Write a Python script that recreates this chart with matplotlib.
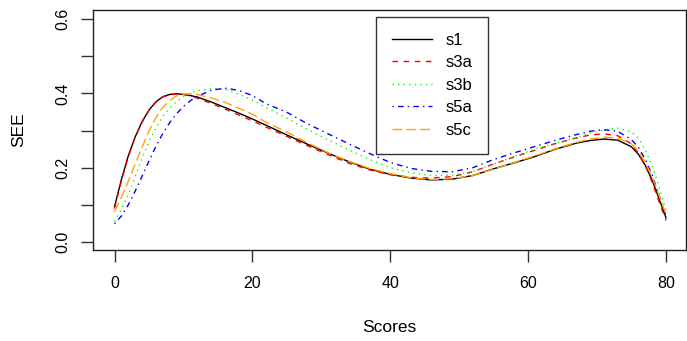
import matplotlib
matplotlib.use('Agg')
import matplotlib.pyplot as plt

plt.rcParams['font.family'] = ['Liberation Sans', 'DejaVu Sans']

# score grid and SEE values
scores = [0, 1, 2, 3, 4, 5, 6, 7, 8, 9, 10, 11, 12, 14, 16, 18, 20, 22, 25, 28,
          31, 34, 37, 40, 43, 46, 49, 52, 55, 58, 61, 64, 67, 69, 71, 73, 75,
          76, 77, 78, 79, 80]

s1 = [0.095, 0.168, 0.232, 0.283, 0.324, 0.355, 0.377, 0.391, 0.397, 0.399, 0.397,
      0.394, 0.39, 0.377, 0.362, 0.347, 0.331, 0.314, 0.288, 0.263,
      0.239, 0.216, 0.196, 0.182, 0.172, 0.167, 0.169, 0.179, 0.197, 0.213,
      0.23, 0.25, 0.266, 0.273, 0.277, 0.274, 0.256, 0.236, 0.206, 0.166,
      0.116, 0.065]

s3a = [0.09, 0.164, 0.229, 0.281, 0.322, 0.354, 0.376, 0.39, 0.396, 0.398, 0.397,
       0.393, 0.387, 0.373, 0.358, 0.342, 0.326, 0.309, 0.284, 0.259,
       0.235, 0.212, 0.194, 0.181, 0.174, 0.172, 0.176, 0.189, 0.21, 0.229,
       0.247, 0.265, 0.28, 0.288, 0.291, 0.286, 0.264, 0.239, 0.205, 0.16,
       0.108, 0.058]

s3b = [0.055, 0.088, 0.128, 0.176, 0.225, 0.27, 0.307, 0.337, 0.36, 0.378, 0.392,
       0.401, 0.407, 0.413, 0.411, 0.398, 0.382, 0.362, 0.333, 0.303,
       0.275, 0.248, 0.222, 0.2, 0.186, 0.179, 0.18, 0.19, 0.21, 0.23,
       0.25, 0.266, 0.281, 0.293, 0.302, 0.306, 0.296, 0.28, 0.248, 0.205,
       0.148, 0.085]

s5a = [0.049, 0.07, 0.1, 0.137, 0.177, 0.218, 0.257, 0.292, 0.321, 0.345, 0.365,
       0.38, 0.392, 0.408, 0.414, 0.408, 0.394, 0.372, 0.349, 0.318,
       0.291, 0.264, 0.238, 0.214, 0.198, 0.19, 0.189, 0.2, 0.222, 0.24,
       0.257, 0.274, 0.289, 0.298, 0.302, 0.298, 0.275, 0.255, 0.222, 0.18,
       0.125, 0.07]

s5c = [0.082, 0.12, 0.163, 0.21, 0.255, 0.298, 0.335, 0.362, 0.381, 0.393, 0.398,
       0.399, 0.397, 0.388, 0.376, 0.36, 0.344, 0.322, 0.296, 0.267,
       0.24, 0.217, 0.198, 0.184, 0.173, 0.168, 0.17, 0.179, 0.196, 0.214,
       0.232, 0.251, 0.268, 0.277, 0.282, 0.28, 0.264, 0.245, 0.215, 0.175,
       0.125, 0.075]

series = [
    ('s1', s1, 'black', (None, None)),
    ('s3a', s3a, 'red', (4, 4)),
    ('s3b', s3b, '#00ff00', (1, 3)),
    ('s5a', s5a, 'blue', (1, 3, 4, 3)),
    ('s5c', s5c, 'orange', (7, 3)),
]

W, H = 687, 341
fig = plt.figure(figsize=(W / 100, H / 100), dpi=100)
# plot box in pixels: left 93, right 686, top 10, bottom 250
ax = fig.add_axes([93 / W, (H - 250) / H, (686 - 93) / W, (250 - 10) / H])

for name, vals, col, dash in series:
    line, = ax.plot(scores, vals, color=col, linewidth=1.0, label=name)
    if dash[0] is not None:
        line.set_dashes(dash)

ax.set_xlim(-3.12, 82.9)
ax.set_ylim(-0.0215, 0.6242)
ax.set_xticks([0, 20, 40, 60, 80])
ax.set_yticks([0.0, 0.1, 0.2, 0.3, 0.4, 0.5, 0.6])
ax.set_yticklabels(['0.0', '', '0.2', '', '0.4', '', '0.6'], rotation=90, va='center')

for sp in ax.spines.values():
    sp.set_linewidth(1.0)
    sp.set_color('#222222')
ax.tick_params(direction='out', length=8.5, width=1.0, color='#333333',
               labelsize=11.5, pad=10)
ax.tick_params(axis='y', pad=8)

ax.set_xlabel('Scores', fontsize=12.5, labelpad=21)
ax.set_ylabel('SEE', fontsize=12.5, labelpad=21)

leg = ax.legend(loc='upper left', bbox_to_anchor=(376 / W, 1 - 17 / H),
                bbox_transform=fig.transFigure, borderaxespad=0,
                fancybox=False, frameon=True, fontsize=12,
                handlelength=2.4, handletextpad=0.8, borderpad=0.95,
                labelspacing=0.45)
leg.get_frame().set_edgecolor('black')
leg.get_frame().set_linewidth(1.0)

plt.savefig('out.png', dpi=100)
